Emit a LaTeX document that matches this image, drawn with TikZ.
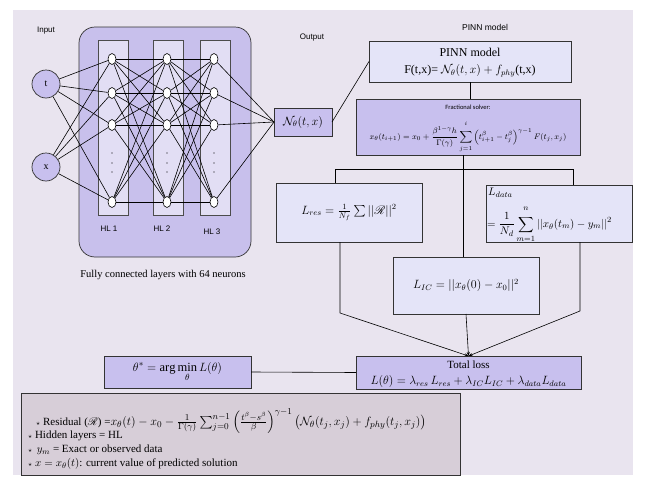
\documentclass[tikz,border=0pt]{standalone}
\usepackage{amsmath,amssymb}
\usepackage{mathrsfs}
\usepackage{fontspec}
\setmainfont{Liberation Serif}
\newfontfamily\labelfont{Liberation Sans}
\newfontfamily\calfont{Carlito}
\usetikzlibrary{shapes.geometric,arrows.meta,calc}
\definecolor{bgc}{RGB}{233,228,239}
\definecolor{bigc}{RGB}{200,192,236}
\definecolor{colc}{RGB}{226,222,244}
\definecolor{lightc}{RGB}{228,228,248}
\definecolor{purpc}{RGB}{200,192,238}
\definecolor{legc}{RGB}{215,206,216}
\newcommand{\uplim}[1]{\raisebox{3pt}{$\scriptstyle #1$}}
\newcommand{\dnlim}[1]{\raisebox{-2pt}{$\scriptstyle #1$}}
\begin{document}
\begin{tikzpicture}[x=1pt,y=-1pt,
  box/.style={draw=black!80, line width=0.7pt, inner sep=0pt, outer sep=0pt, align=center},
  colbox/.style={draw=black!70, line width=0.7pt, fill=colc, minimum width=30pt, minimum height=175pt, inner sep=0pt},
  neuron/.style={ellipse, draw=black, line width=0.6pt, fill=white, minimum width=8pt, minimum height=11pt, inner sep=0pt},
  inp/.style={circle, draw=black!80, line width=0.7pt, fill=purpc, minimum size=28pt, inner sep=0pt, font=\fontsize{10}{12}\selectfont},
  conn/.style={line width=0.6pt, black},
  lbl/.style={font=\labelfont\fontsize{8}{10}\selectfont, inner sep=0pt},
  txt/.style={inner sep=0pt},
  arr/.style={line width=0.6pt, -{Stealth[length=4pt,width=3pt]}}
]
\useasboundingbox (0,0) rectangle (646,482);
\fill[bgc] (13,10) rectangle (633,475);

% neural network block
\node[box, fill=bigc, rounded corners=16pt, minimum width=172pt, minimum height=230pt] (big) at (165,142) {};
\node[colbox] (c1) at (113,127.5) {};
\node[colbox] (c2) at (168,127.5) {};
\node[colbox] (c3) at (215,127.5) {};
\foreach \c/\xx in {1/112,2/167,3/214}{
  \foreach \r/\yy in {1/59,2/93,3/125,4/202}{
    \node[neuron] (n\c\r) at (\xx,\yy) {};
  }
  \foreach \yy in {153,163,172}{
    \fill (\xx,\yy) circle (0.6pt);
  }
}
\node[inp] (t) at (46,84) {t};
\node[inp] (x) at (46,167) {x};

\node[box, fill=purpc, minimum width=58pt, minimum height=28pt] (out) at (303,122) {\fontsize{11.5}{12}\selectfont$\mathcal{N}_\theta(t,x)$};

\foreach \r in {1,2,3,4}{
  \draw[conn] (t) -- (n1\r);
  \draw[conn] (x) -- (n1\r);
  \draw[conn] (n3\r) -- (out.west);
  \foreach \s in {1,2,3,4}{
    \draw[conn] (n1\r) -- (n2\s);
    \draw[conn] (n2\r) -- (n3\s);
  }
}

\node[lbl] (linput) at (46,31) {Input};
\node[lbl] (loutput) at (312,38) {Output};
\node[lbl] (lh1) at (109,229) {HL 1};
\node[lbl] (lh2) at (162,229) {HL 2};
\node[lbl] (lh3) at (212,232) {HL 3};
\node[txt, font=\fontsize{10.5}{12}\selectfont] (fc) at (163,275) {Fully connected layers with 64 neurons};

% PINN side
\node[lbl, font=\labelfont\fontsize{8.5}{10}\selectfont] (lpinn) at (485,27) {PINN model};
\node[box, fill=lightc, minimum width=202pt, minimum height=41pt] (pinn) at (470,61.5) {};
\node[txt, font=\fontsize{12}{13}\selectfont] (pinnt) at (470,52) {PINN model};
\node[txt, font=\fontsize{12}{13}\selectfont] (pinnf) at (470,71) {F(t,x)= $\mathcal{N}_\theta(t,x)+f_{phy}$(t,x)};
\node[box, fill=purpc, minimum width=224pt, minimum height=56pt] (solver) at (468,127) {};
\node[txt, font=\calfont\fontsize{6.5}{7}\selectfont] (soltitle) at (468,107) {Fractional solver:};
\node[txt, font=\fontsize{8.3}{10}\selectfont] (solform) at (468,137)
  {$x_\theta(t_{i+1}) = x_0 + \dfrac{\beta^{1-\gamma}h}{\Gamma(\gamma)}\displaystyle\sum_{\dnlim{j=1}}^{\uplim{i}}\left(t_{i+1}^{\beta}-t_j^{\beta}\right)^{\gamma-1}F(t_j,x_j)$};

\node[box, fill=lightc, minimum width=146pt, minimum height=59pt, font=\fontsize{11.5}{12}\selectfont] (lres) at (349,212.5)
  {$L_{res}=\frac{1}{N_f}\sum||\mathscr{R}||^2$};
\node[box, fill=lightc, minimum width=146pt, minimum height=57pt] (ldata) at (559,213.5) {};
\node[txt, anchor=west, font=\fontsize{11}{12}\selectfont] (ldatat) at (488,193) {$L_{data}$};
\node[txt, anchor=west, font=\fontsize{10.8}{12}\selectfont] (ldataf) at (487,224.5)
  {$=\dfrac{1}{N_d}\displaystyle\sum_{\dnlim{m=1}}^{\uplim{n}}||x_\theta(t_m)-y_m||^2$};
\node[box, fill=lightc, minimum width=146pt, minimum height=57pt, font=\fontsize{12}{12}\selectfont] (lic) at (466,285.5)
  {$L_{IC}=||x_\theta(0)-x_0||^2$};

\node[box, fill=purpc, minimum width=225pt, minimum height=33pt] (total) at (468.5,372.5) {};
\node[txt, font=\fontsize{11}{12}\selectfont] (totalt) at (468.5,365) {Total loss};
\node[txt, font=\fontsize{12}{12}\selectfont] (totalf) at (468.5,381.5) {$L(\theta)=\lambda_{res}\,L_{res}+\lambda_{IC}L_{IC}+\lambda_{data}L_{data}$};
\node[box, fill=purpc, minimum width=147pt, minimum height=32pt, font=\fontsize{12.5}{13}\selectfont] (theta) at (177.5,372)
  {$\theta^*=\arg\min\limits_{\dnlim{\theta}}L(\theta)$};

% connectors
\draw[conn] (out.east) -- (pinn.west);
\draw[conn] (pinn.south) -- (pinn.south |- solver.north);
\draw[conn] ([xshift=-5pt]solver.south) -- ([xshift=-5pt]solver.south |- lic.north);
\draw[conn] ([xshift=-14pt]lres.north) -- ++(0,-14) -| ([xshift=14pt]ldata.north);
\draw[arr] ([xshift=-9pt]lres.south) -- ++(0,71) -- (total.north);
\draw[arr] ([xshift=21pt]ldata.south) -- ++(0,69) -- (total.north);
\draw[arr] (lic.south) -- (total.north);
\draw[conn] (theta.east) -- (total.west);

% legend
\node[box, fill=legc, minimum width=439pt, minimum height=82pt] (legend) at (240.5,434) {};
\begin{scope}[every node/.style={anchor=west, inner sep=0pt, font=\fontsize{11}{12}\selectfont}]
\node (leg1) at (36,421) {{\scriptsize$\star$} Residual ($\mathscr{R}$) =\fontsize{12.5}{13}\selectfont$x_\theta(t)-x_0-\frac{1}{\Gamma(\gamma)}\sum_{j=0}^{n-1}\left(\frac{t^{\beta}-s^{\beta}}{\beta}\right)^{\gamma-1}\left(\mathcal{N}_\theta(t_j,x_j)+f_{phy}(t_j,x_j)\right)$};
\node (leg2) at (28,436) {{\scriptsize$\star$} Hidden layers = HL};
\node (leg3) at (28,450) {{\scriptsize$\star$}\, $y_m$ = Exact or observed data};
\node (leg4) at (28,464) {{\scriptsize$\star$} $x=x_\theta(t)$: current value of predicted solution};
\end{scope}
\end{tikzpicture}
\end{document}
